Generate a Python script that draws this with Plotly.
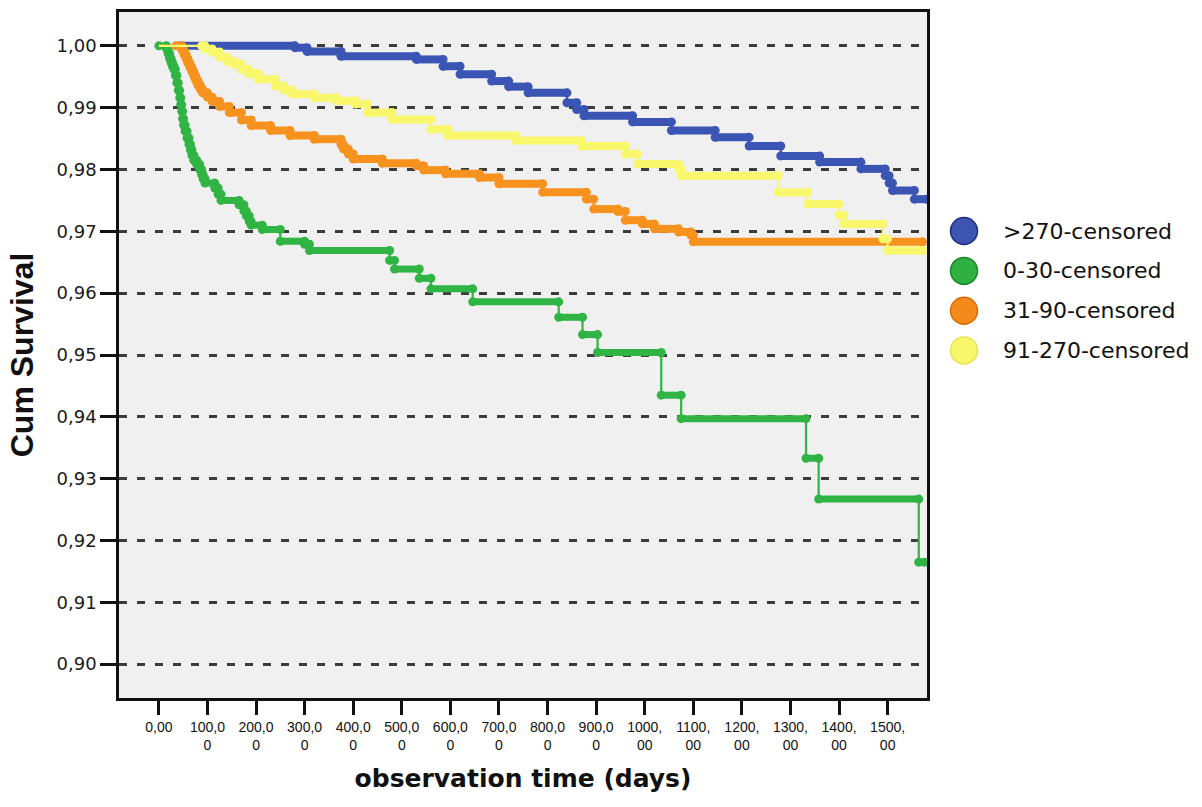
import plotly.graph_objects as go

# ---------------- data ----------------
group_names = [">270-censored", "0-30-censored", "31-90-censored", "91-270-censored"]

blue_t = [0, 280, 305, 375, 530, 585, 620, 685, 720, 760, 840, 860, 875, 975, 1055, 1145, 1215, 1280, 1360, 1445,
          1495, 1503, 1510, 1555]
blue_s = [1.0, 0.9997, 0.9991, 0.9983, 0.9978, 0.9967, 0.9954, 0.9943, 0.9934, 0.9924, 0.9908, 0.9897, 0.9887,
          0.9877, 0.9863, 0.9852, 0.9838, 0.9822, 0.9812, 0.9801, 0.9790, 0.9778, 0.9766, 0.9752]

green_t = [0, 16, 19, 22, 25, 28, 31, 34, 37, 40, 43, 45, 47, 49, 51, 54, 58, 62, 65, 68, 72, 78, 84, 88, 91, 95,
           115, 122, 128, 165, 175, 180, 186, 190, 213, 250, 300, 310, 475, 485, 536, 560, 646, 823, 872, 903,
           1034, 1075, 1332, 1358, 1564]
green_s = [1.0, 0.9995, 0.9988, 0.9980, 0.9973, 0.9967, 0.9962, 0.9952, 0.9940, 0.9928, 0.9916, 0.9905, 0.9894,
           0.9882, 0.9872, 0.9862, 0.9851, 0.9841, 0.9832, 0.9823, 0.9815, 0.9808, 0.9800, 0.9792, 0.9785, 0.9778,
           0.9770, 0.9760, 0.9750, 0.9743, 0.9733, 0.9725, 0.9716, 0.9710, 0.9703, 0.9684, 0.9679, 0.9669, 0.9653,
           0.9639, 0.9624, 0.9607, 0.9586, 0.9561, 0.9533, 0.9504, 0.9435, 0.9397, 0.9333, 0.9267, 0.9165]

orange_t = [0, 48, 52, 56, 60, 64, 68, 72, 76, 80, 85, 90, 100, 110, 125, 145, 170, 190, 230, 270, 320, 375, 380,
            390, 400, 460, 530, 545, 590, 660, 700, 790, 880, 895, 945, 960, 995, 1020, 1070, 1095, 1100]
orange_s = [1.0, 0.9993, 0.9986, 0.9979, 0.9972, 0.9965, 0.9958, 0.9951, 0.9944, 0.9937, 0.9930, 0.9924, 0.9917,
            0.9910, 0.9902, 0.9892, 0.9880, 0.9871, 0.9863, 0.9855, 0.9849, 0.9840, 0.9833, 0.9825, 0.9817, 0.9810,
            0.9806, 0.9799, 0.9793, 0.9787, 0.9777, 0.9763, 0.9752, 0.9736, 0.9732, 0.9718, 0.9712, 0.9704, 0.9699,
            0.9694, 0.9683]

yellow_t = [0, 95, 110, 125, 140, 155, 170, 185, 205, 240, 258, 275, 320, 365, 405, 430, 480, 560, 595, 735, 870,
            960, 985, 1070, 1075, 1275, 1335, 1400, 1410, 1490, 1500]
yellow_s = [1.0, 0.9995, 0.9990, 0.9982, 0.9975, 0.9970, 0.9962, 0.9955, 0.9946, 0.9935, 0.9928, 0.9922, 0.9916,
            0.9911, 0.9906, 0.9892, 0.9881, 0.9865, 0.9855, 0.9847, 0.9838, 0.9825, 0.9809, 0.9800, 0.9790, 0.9763,
            0.9744, 0.9726, 0.9712, 0.9688, 0.9669]

# last observation time and first censoring time of each group
end_time = [1580, 1576, 1572, 1572]
first_censor = [45, 0, 35, 88]

x_tickvals = [0, 100, 200, 300, 400, 500, 600, 700, 800, 900, 1000, 1100, 1200, 1300, 1400, 1500]
x_ticktext = ["0,00", "100,0<br>0", "200,0<br>0", "300,0<br>0", "400,0<br>0", "500,0<br>0", "600,0<br>0",
              "700,0<br>0", "800,0<br>0", "900,0<br>0", "1000,<br>00", "1100,<br>00", "1200,<br>00",
              "1300,<br>00", "1400,<br>00", "1500,<br>00"]
y_tickvals = [0.90, 0.91, 0.92, 0.93, 0.94, 0.95, 0.96, 0.97, 0.98, 0.99, 1.00]
y_ticktext = ["0,90", "0,91", "0,92", "0,93", "0,94", "0,95", "0,96", "0,97", "0,98", "0,99", "1,00"]

# ---------------- styling ----------------
line_colors = ["#3a55b4", "#30b444", "#f7921e", "#f9f76c"]
legend_fill = ["#3d55b0", "#2fb040", "#f58a1c", "#f8f66a"]
legend_edge = ["#1f2c86", "#1c8a2c", "#d86c08", "#e6e250"]
band_width = [8, 7, 8, 8]
mark_size = [9, 9, 9, 9]

times = [blue_t, green_t, orange_t, yellow_t]
survs = [blue_s, green_s, orange_s, yellow_s]

fig = go.Figure()

for k in range(4):
    t, s = times[k], survs[k]
    # thin step line of the survival function
    fig.add_trace(go.Scatter(
        x=t + [end_time[k]], y=s + [s[-1]], mode="lines", line_shape="hv",
        line=dict(color=line_colors[k], width=2.2), showlegend=False, hoverinfo="skip"))
    # thick band of censoring marks along the horizontal segments
    bx, by = [], []
    for i in range(len(t)):
        a = max(t[i], first_censor[k])
        b = t[i + 1] if i + 1 < len(t) else end_time[k]
        if b <= a:
            continue
        bx += [a, b, None]
        by += [s[i], s[i], None]
    fig.add_trace(go.Scatter(
        x=bx, y=by, mode="lines+markers", line=dict(color=line_colors[k], width=band_width[k]),
        marker=dict(color=line_colors[k], size=mark_size[k], line=dict(width=0)),
        name=group_names[k], showlegend=False, hoverinfo="skip"))

# ---------------- layout ----------------
L, R, T, B = 119, 927, 9, 698
W, H = 1202, 807
pw, ph = R - L, B - T

shapes = []
annotations = []
for k in range(4):
    cy = 229 + 40 * k
    px = (964 - L) / pw
    py = (B - cy) / ph
    rx, ry = 13.5 / pw, 13.5 / ph
    shapes.append(dict(type="circle", xref="paper", yref="paper",
                       x0=px - rx, x1=px + rx, y0=py - ry, y1=py + ry,
                       fillcolor=legend_fill[k], line=dict(color=legend_edge[k], width=1.5)))
    annotations.append(dict(xref="paper", yref="paper", x=(1001 - L) / pw, y=py,
                            xanchor="left", yanchor="middle", showarrow=False,
                            text=group_names[k],
                            font=dict(family="DejaVu Sans", size=22, color="#111111")))

fig.update_layout(
    width=W, height=H,
    margin=dict(l=L, r=W - R, t=T, b=H - B),
    paper_bgcolor="white", plot_bgcolor="#f0f0f0",
    showlegend=False,
    shapes=shapes, annotations=annotations,
    xaxis=dict(
        range=[-82, 1581], tickmode="array", tickvals=x_tickvals, ticktext=x_ticktext,
        ticks="outside", ticklen=14, tickwidth=3, tickcolor="#111111",
        tickfont=dict(family="Liberation Sans Narrow, Arial Narrow, Liberation Sans, sans-serif", size=14,
                      color="#111111"),
        showgrid=False, zeroline=False,
        showline=True, mirror=True, linecolor="#111111", linewidth=2.5,
        title=dict(text="<b>observation time (days)</b>", standoff=18,
                   font=dict(family="DejaVu Sans", size=25, color="#111111")),
    ),
    yaxis=dict(
        range=[0.89453, 1.00547], tickmode="array", tickvals=y_tickvals, ticktext=y_ticktext,
        ticks="outside", ticklen=16, tickwidth=2.5, tickcolor="#111111",
        tickfont=dict(family="DejaVu Sans", size=18, color="#1a1a1a"),
        showgrid=True, gridcolor="#3c3c3c", gridwidth=3, griddash="8px,10px",
        zeroline=False,
        showline=True, mirror=True, linecolor="#111111", linewidth=2.5,
        title=dict(text="<b>Cum Survival</b>", standoff=14,
                   font=dict(family="Liberation Sans", size=32, color="#111111")),
    ),
)

fig.write_html("out.html", config={"displayModeBar": False},
               post_script="document.body.style.margin='0';")
